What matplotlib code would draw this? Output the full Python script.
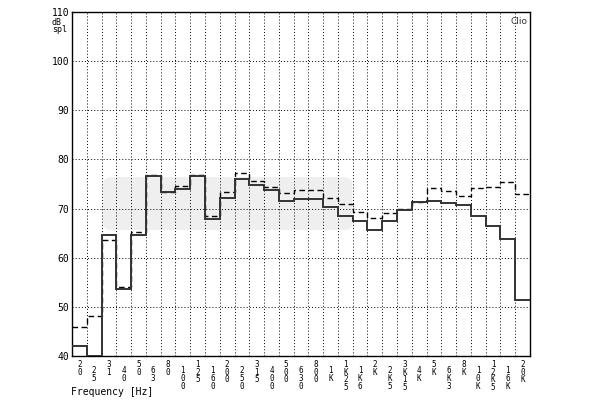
import matplotlib
matplotlib.use("Agg")
import matplotlib.pyplot as plt
from matplotlib.patches import FancyBboxPatch
import numpy as np

# third-octave bands, 20 Hz .. 20 kHz
bands = ["20", "25", "31", "40", "50", "63", "80", "100", "125", "160",
         "200", "250", "315", "400", "500", "630", "800", "1K", "1K25", "1K6",
         "2K", "2K5", "3K15", "4K", "5K", "6K3", "8K", "10K", "12K5", "16K", "20K"]

# solid trace (dB spl)
level_solid = [42.0, 40.0, 64.6, 53.6, 64.6, 76.7, 73.3, 73.9, 76.7, 67.9,
               72.2, 76.1, 74.7, 73.8, 71.5, 71.9, 71.9, 70.4, 68.4, 67.5,
               65.6, 67.5, 69.8, 71.3, 71.5, 71.1, 70.8, 68.5, 66.4, 63.9, 51.3]

# dashed trace (dB spl)
level_dashed = [45.8, 48.2, 63.6, 54.0, 65.2, 76.8, 73.3, 74.6, 76.8, 68.5,
                73.3, 77.2, 75.6, 74.3, 73.1, 73.8, 73.8, 72.2, 70.9, 69.4,
                68.0, 69.2, 70.0, 71.4, 74.1, 73.6, 72.6, 74.2, 74.4, 75.4, 73.0]

yticks = [40, 50, 60, 70, 80, 90, 100, 110]

plt.rcParams['font.family'] = ['DejaVu Sans Mono', 'DejaVu Sans']

fig = plt.figure(figsize=(6.0, 4.03), dpi=100)
ax = fig.add_axes([72 / 600, 47 / 403, 458 / 600, 344 / 403])

n = len(bands)
edges = np.arange(n + 1)

# light grey watermark box
ax.add_patch(FancyBboxPatch((0.068, 0.366), 0.544, 0.154,
                            boxstyle="round,pad=0,rounding_size=0.02",
                            transform=ax.transAxes, facecolor="#efefef",
                            edgecolor="none", zorder=0))

# dotted grid
for x in edges[1:-1]:
    ax.axvline(x, color="black", lw=0.7, ls=(0, (1, 2.2)), zorder=1)
for y in yticks[1:-1]:
    ax.axhline(y, color="black", lw=0.7, ls=(0, (1, 2.2)), zorder=1)

ax.stairs(level_dashed, edges, baseline=None, color="black", lw=1.0,
          ls=(0, (4, 2.5)), zorder=3)
ax.stairs(level_solid, edges, baseline=None, color="#333333", lw=1.4, zorder=4)

ax.set_xlim(0, n)
ax.set_ylim(40, 110)

ax.set_xticks([])
ax.set_yticks(yticks)
ax.set_yticklabels([str(v) for v in yticks], fontsize=7)
ax.tick_params(axis="y", length=0, pad=2)

for spine in ax.spines.values():
    spine.set_linewidth(1.0)

# stacked tick labels, odd bands shifted down
for i, lab in enumerate(bands):
    yoff = -0.012 if i % 2 == 0 else -0.030
    ax.text(i + 0.5, yoff, "\n".join(lab), transform=ax.get_xaxis_transform(),
            ha="center", va="top", fontsize=5.5, linespacing=0.8)

fig.text(71 / 600, 1 - 392 / 403, "Frequency [Hz]", fontsize=7, ha="left", va="center")
fig.text(52 / 600, 1 - 18 / 403, "dB\nspl", fontsize=6, ha="left", va="top",
         linespacing=0.75)
ax.text(0.995, 0.985, "Clio", transform=ax.transAxes, fontsize=6.5,
        family="DejaVu Sans", ha="right", va="top", color="#333333")

fig.savefig("out.png", dpi=100)
